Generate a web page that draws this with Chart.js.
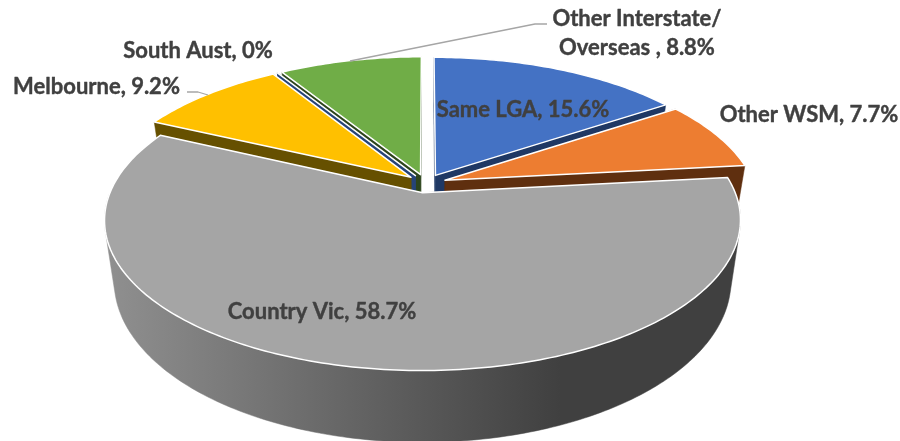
<!DOCTYPE html>
<html><head><meta charset="utf-8">
<style>html,body{margin:0;padding:0;background:#fff}canvas{display:block}</style>
<script src="https://cdn.jsdelivr.net/npm/chart.js@4"></script>
</head><body><canvas id="c" width="900" height="441"></canvas>
<script>
const categories = ["Same LGA","Other WSM","Country Vic","Melbourne","South Aust","Other Interstate/\nOverseas "];
const shares = [15.6,7.7,58.7,9.2,0,8.8];
const topColours = ["#4472c4","#ed7d31","#a5a5a5","#ffc000","#5b9bd5","#70ad47"];
const wallColours = ["#1f3864","#5f2f0f",null,"#665000","#264478","#2d451c"];
const paintOrder = [0,5,4,3,1,2];
const labelCentres = [[523,110],[809,115],[322,312],[96.5,87],[198,51],[637,19]];

const VIEW = {cx:426, cy:183.5, R:309, H:142, k:0.18, D:58, baseShrink:0.97};
function project(u,v,base){
  const w = 1 - VIEW.k*v;
  let x = VIEW.R*u/w, y = VIEW.H*v/w;
  if(base){ x *= VIEW.baseShrink; y += VIEW.D/w; }
  return [VIEW.cx + x, VIEW.cy + y];
}
function hull(points){
  const p = points.slice().sort((a,b)=>a[0]-b[0]||a[1]-b[1]);
  const cross=(o,a,b)=>(a[0]-o[0])*(b[1]-o[1])-(a[1]-o[1])*(b[0]-o[0]);
  const lo=[],up=[];
  for(const q of p){ while(lo.length>1&&cross(lo[lo.length-2],lo[lo.length-1],q)<=0)lo.pop(); lo.push(q); }
  for(const q of p.slice().reverse()){ while(up.length>1&&cross(up[up.length-2],up[up.length-1],q)<=0)up.pop(); up.push(q); }
  return lo.slice(0,-1).concat(up.slice(0,-1));
}
const pie3d = {
  id:'pie3d',
  beforeDatasetsDraw(chart){
    const ctx = chart.ctx, meta = chart.getDatasetMeta(0);
    paintOrder.forEach(i=>{
      const el = meta.data[i];
      const {startAngle:a0,endAngle:a1,outerRadius:r} = el.getProps(['startAngle','endAngle','outerRadius'],true);
      const e = el.options.offset/r, mid=(a0+a1)/2;
      const ox=e*Math.cos(mid), oy=e*Math.sin(mid);
      const N = Math.max(1,Math.ceil((a1-a0)*60));
      const rim=[], base=[], front=[];
      for(let n=0;n<=N;n++){
        const a=a0+(a1-a0)*n/N, u=ox+Math.cos(a), v=oy+Math.sin(a);
        const pt=project(u,v,false), pb=project(u,v,true);
        rim.push(pt); base.push(pb);
        if(Math.sin(a)>0){ front.push(pt); front.push(pb); }
      }
      const apex=project(ox,oy,false), apexB=project(ox,oy,true);
      let wall = wallColours[i];
      if(!wall){
        wall = ctx.createLinearGradient(105,0,560,0);
        wall.addColorStop(0,'#909090'); wall.addColorStop(1,'#404040');
      }
      ctx.fillStyle=wall; ctx.strokeStyle=wall; ctx.lineWidth=0.5;
      const poly=(pts)=>{ctx.beginPath();pts.forEach((p,j)=>j?ctx.lineTo(p[0],p[1]):ctx.moveTo(p[0],p[1]));ctx.closePath();ctx.fill();ctx.stroke();};
      poly([apex,rim[0],base[0],apexB]);
      poly([apex,rim[N],base[N],apexB]);
      if(front.length>2) poly(hull(front));
      ctx.beginPath();
      ctx.moveTo(apex[0],apex[1]);
      rim.forEach(p=>ctx.lineTo(p[0],p[1]));
      ctx.closePath();
      ctx.fillStyle=el.options.backgroundColor; ctx.fill();
      ctx.strokeStyle='#ffffff'; ctx.lineWidth=1.5; ctx.lineJoin='round'; ctx.stroke();
    });
    return false;
  },
  afterDraw(chart){
    const ctx = chart.ctx;
    ctx.save();
    ctx.strokeStyle='#a6a6a6'; ctx.lineWidth=1.3;
    [[[547,24],[535,24],[350,61]],[[187,92],[198,92],[208,95]]].forEach(l=>{
      ctx.beginPath(); l.forEach((p,j)=>j?ctx.lineTo(p[0],p[1]):ctx.moveTo(p[0],p[1])); ctx.stroke();
    });
    ctx.font='bold 22px Lato'; ctx.fillStyle='#404040'; ctx.strokeStyle='#404040'; ctx.lineWidth=0.4;
    ctx.textAlign='center'; ctx.textBaseline='middle';
    categories.forEach((cat,i)=>{
      const lines=(cat+', '+shares[i]+'%').split('\n');
      lines.forEach((t,j)=>{
        const x=labelCentres[i][0], y=labelCentres[i][1]+j*29;
        ctx.fillText(t,x,y); ctx.strokeText(t,x,y);
      });
    });
    ctx.restore();
  }
};
new Chart(document.getElementById('c'),{
  type:'pie',
  data:{labels:categories,datasets:[{data:shares,backgroundColor:topColours,borderWidth:0,offset:14}]},
  options:{responsive:false,animation:false,events:[],
    plugins:{legend:{display:false},tooltip:{enabled:false}}},
  plugins:[pie3d]
});
</script></body></html>
